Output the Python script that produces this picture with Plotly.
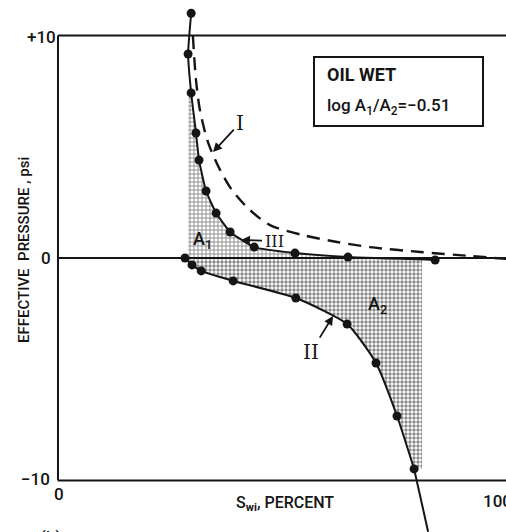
import plotly.graph_objects as go

W, H = 506, 532

# ---------------- data ----------------
# Curve III : solid line with points (positive branch)
swi_iii = [30.4, 29.7, 30.4, 31.5, 32.2, 33.8, 36.1, 39.3, 44.8, 54.1, 66.2, 86.1]
pc_iii = [11.0, 9.17, 7.42, 5.62, 4.40, 3.01, 2.02, 1.17, 0.49, 0.22, 0.04, -0.09]

# Curve II : solid line with points (negative branch)
swi_ii = [29.0, 30.6, 32.7, 40.0, 54.3, 66.0, 72.6, 77.4, 81.3]
pc_ii = [0.0, -0.31, -0.58, -1.03, -1.80, -2.97, -4.72, -7.10, -9.48]
# continuation of curve II below the frame
swi_ii_tail = [81.3, 84.5]
pc_ii_tail = [-9.48, -12.3]

# Curve I : dashed line
swi_i = [30.8, 31.5, 32.4, 34.3, 37.0, 39.7, 43.8, 48.4, 55.9, 63.7, 71.2, 82.7, 94.1, 102.3]
pc_i = [9.98, 8.0, 6.65, 5.17, 3.96, 3.06, 2.16, 1.48, 1.03, 0.72, 0.49, 0.27, 0.09, -0.04]

# shaded area limits
a1_left = 29.7      # left edge of A1 hatch
a2_right = 83.1     # right edge of A2 dots

y_ticks = [10, 0, -10]
y_tick_text = ["+10", "0", "\u221210"]
x_ticks = [0, 100]
x_tick_text = ["0", "100"]

# ---------------- layout geometry ----------------
X_RANGE = [-13.24, 102.28]
Y_RANGE = [-12.315, 11.596]
INK = "#151515"
SANS = "Roboto, Liberation Sans, Arial, sans-serif"
SERIF = "DejaVu Serif, serif"


def P(px, py):
    return px / W, 1 - py / H


fig = go.Figure()

# A1 cross-hatched region
a1_x = [a1_left, a1_left] + swi_iii[2:11] + [swi_iii[10]]
a1_y = [0, pc_iii[2]] + pc_iii[2:11] + [0]
fig.add_trace(go.Scatter(
    x=a1_x, y=a1_y, mode="lines", fill="toself", line=dict(width=0),
    fillcolor="rgba(0,0,0,0)",
    fillpattern=dict(shape="+", size=4, solidity=0.4, fgcolor="#111",
                     bgcolor="rgba(0,0,0,0)"),
    hoverinfo="skip"))

# A2 dotted region
a2_x = [swi_ii[0], a2_right, a2_right] + swi_ii[::-1]
a2_y = [0, 0, pc_ii[-1]] + pc_ii[::-1]
fig.add_trace(go.Scatter(
    x=a2_x, y=a2_y, mode="lines", fill="toself", line=dict(width=0),
    fillcolor="rgba(0,0,0,0)",
    fillpattern=dict(shape=".", size=4, solidity=0.55, fgcolor="#111",
                     bgcolor="rgba(0,0,0,0)"),
    hoverinfo="skip"))

# Curve I dashed
fig.add_trace(go.Scatter(
    x=swi_i, y=pc_i, mode="lines",
    line=dict(color=INK, width=2.4, dash="13px,8px", shape="spline", smoothing=0.8),
    hoverinfo="skip"))

# Curve III
fig.add_trace(go.Scatter(
    x=swi_iii, y=pc_iii, mode="lines+markers",
    line=dict(color=INK, width=2, shape="spline", smoothing=0.4),
    marker=dict(color=INK, size=9),
    hoverinfo="skip"))

# Curve II
fig.add_trace(go.Scatter(
    x=swi_ii, y=pc_ii, mode="lines+markers",
    line=dict(color=INK, width=2, shape="spline", smoothing=0.6),
    marker=dict(color=INK, size=9),
    hoverinfo="skip"))
fig.add_trace(go.Scatter(
    x=swi_ii_tail, y=pc_ii_tail, mode="lines",
    line=dict(color=INK, width=2),
    hoverinfo="skip"))

# frame lines
frame = dict(color=INK, width=2)
fig.add_shape(type="line", x0=0, x1=0, y0=-10, y1=10, line=frame, layer="below")
for yv in (10, 0, -10):
    fig.add_shape(type="line", x0=0, x1=X_RANGE[1], y0=yv, y1=yv, line=frame, layer="below")

# legend box
bx0, by0 = P(314, 57)
bx1, by1 = P(483, 126)
fig.add_shape(type="rect", xref="paper", yref="paper", x0=bx0, x1=bx1, y0=by1, y1=by0,
              line=dict(color=INK, width=2), fillcolor="white")

ann = []


def txt(text, px, py, size, xanchor="center", yanchor="middle", font=SANS, angle=0,
        weight=500):
    x, y = P(px, py)
    ann.append(dict(text=text, x=x, y=y, xref="paper", yref="paper", showarrow=False,
                    xanchor=xanchor, yanchor=yanchor, textangle=angle,
                    font=dict(family=font, size=size, color=INK, weight=weight)))


# y tick labels
txt(y_tick_text[0], 58, 37, 17, xanchor="right")
txt(y_tick_text[1], 53, 258, 17, xanchor="right")
txt(y_tick_text[2], 52, 479, 17, xanchor="right")
# x tick labels
txt(x_tick_text[0], 59, 494, 17)
txt(x_tick_text[1], 481, 501, 17, xanchor="left")
# axis titles
txt("S<sub><b>wi</b></sub>, PERCENT", 285, 503, 16)
txt("EFFECTIVE  PRESSURE , psi", 24, 250, 15, angle=-90)
txt("(b)", 50, 537, 17)
# legend texts
txt("OIL WET", 325, 74, 18, xanchor="left", weight=700)
txt("log A<sub>1</sub>/A<sub>2</sub>=\u22120.51", 325, 106, 17, xanchor="left")
# area labels
txt("A<sub>1</sub>", 202, 240, 18)
txt("A<sub>2</sub>", 377, 305, 18)


def arrow_label(text, tip_px, tip_py, lab_px, lab_py, size):
    x, y = P(tip_px, tip_py)
    ann.append(dict(text=text, x=x, y=y, xref="paper", yref="paper", showarrow=True,
                    ax=lab_px - tip_px, ay=lab_py - tip_py, arrowhead=2, arrowsize=1,
                    arrowwidth=1.8, arrowcolor=INK, standoff=0, startstandoff=1,
                    font=dict(family=SERIF, size=size, color=INK)))


arrow_label("I", 213, 152, 240, 123, 20)
arrow_label("III", 241, 240, 274, 241, 16)
arrow_label("II", 333, 316, 311, 352, 20)

fig.update_layout(
    width=W, height=H, autosize=False,
    margin=dict(l=0, r=0, t=0, b=0),
    paper_bgcolor="white", plot_bgcolor="white",
    showlegend=False,
    xaxis=dict(range=X_RANGE, visible=False, fixedrange=True),
    yaxis=dict(range=Y_RANGE, visible=False, fixedrange=True),
    annotations=ann,
)

fig.write_html("out.html")
